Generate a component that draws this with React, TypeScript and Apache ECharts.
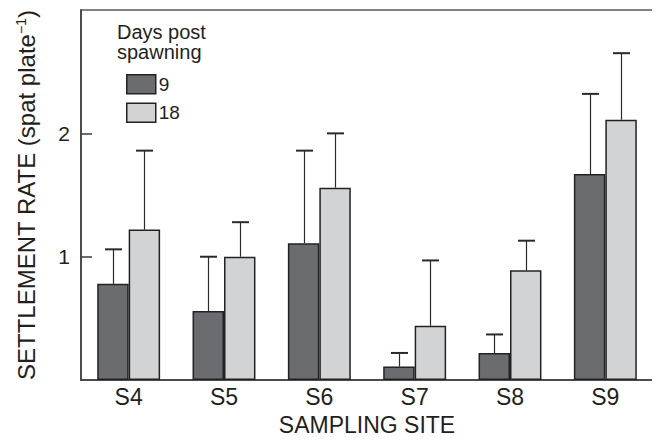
import React, { useEffect, useRef } from "react";
import * as echarts from "echarts";

const categories = ["S4", "S5", "S6", "S7", "S8", "S9"];
const day9 = [0.78, 0.56, 1.11, 0.11, 0.22, 1.67];
const day9Err = [0.28, 0.44, 0.75, 0.11, 0.15, 0.65];
const day18 = [1.22, 1.0, 1.56, 0.44, 0.89, 2.11];
const day18Err = [0.64, 0.28, 0.44, 0.53, 0.24, 0.54];
const yTicks = [0, 1, 2, 3];
const legendTitle = ["Days post", "spawning"];

const FONT = "'Liberation Sans', Arial, Helvetica, sans-serif";
const TEXT = "#231f20";
const DARK = "#6b6c70";
const LIGHT = "#d2d3d5";
const BAR_FRAC = 0.33;

function errSeries(values: number[], errs: number[], sign: number) {
  return {
    type: "custom",
    silent: true,
    z: 3,
    data: values.map((v, i) => [i, v, errs[i]]),
    renderItem: (params: any, api: any) => {
      const idx = api.value(0);
      const v = api.value(1);
      const e = api.value(2);
      const catW = api.size([1, 0])[0];
      const off = (catW * BAR_FRAC) / 2 * sign;
      const p0 = api.coord([idx, v]);
      const p1 = api.coord([idx, v + e]);
      const x = Math.round(p0[0] + off) + 0.5;
      return {
        type: "group",
        children: [
          {
            type: "line",
            shape: { x1: x, y1: p0[1], x2: x, y2: p1[1] },
            style: { stroke: "#2a2a2a", lineWidth: 1.2 },
          },
          {
            type: "line",
            shape: { x1: x - 8.5, y1: p1[1], x2: x + 8.5, y2: p1[1] },
            style: { stroke: "#2a2a2a", lineWidth: 2 },
          },
        ],
      };
    },
  };
}

export default function App() {
  const ref = useRef<HTMLDivElement>(null);
  useEffect(() => {
    if (!ref.current) return;
    const chart = echarts.init(ref.current, undefined, { renderer: "svg" });
    chart.setOption({
      animation: false,
      backgroundColor: "#ffffff",
      textStyle: { fontFamily: FONT, color: TEXT },
      grid: {
        left: 81,
        top: 10,
        right: 7,
        bottom: 53,
        show: true,
        borderColor: "#5a5a5a",
        borderWidth: 1.5,
        backgroundColor: "transparent",
      },
      legend: {
        data: ["9", "18"],
        orient: "vertical",
        left: 121,
        top: 69,
        itemWidth: 29,
        itemHeight: 19,
        itemGap: 8,
        icon: "rect",
        itemStyle: { borderColor: "#222", borderWidth: 1.5 },
        textStyle: { fontFamily: FONT, fontSize: 19, color: TEXT, padding: [0, 0, 0, -2] },
        selectedMode: false,
      },
      graphic: legendTitle.map((t, i) => ({
        type: "text",
        left: 117,
        top: 22 + i * 20,
        style: {
          text: t,
          font: `20px ${FONT}`,
          fill: TEXT,
        },
      })),
      xAxis: {
        type: "category",
        data: categories,
        name: "SAMPLING SITE",
        nameLocation: "middle",
        nameGap: 29,
        nameTextStyle: { fontFamily: FONT, fontSize: 23, color: TEXT },
        axisLine: { lineStyle: { color: "#3a3a3a", width: 1.5 } },
        axisTick: { inside: true, length: 11, lineStyle: { color: "#3a3a3a", width: 1.5 } },
        axisLabel: { fontFamily: FONT, fontSize: 23, color: TEXT, margin: 5 },
      },
      yAxis: {
        type: "value",
        min: yTicks[0],
        max: yTicks[yTicks.length - 1],
        interval: 1,
        name: "SETTLEMENT RATE (spat plate{sup|−1})",
        nameLocation: "middle",
        nameRotate: 90,
        nameGap: 43,
        nameTextStyle: {
          fontFamily: FONT,
          fontSize: 24,
          color: TEXT,
          rich: {
            sup: { fontFamily: FONT, fontSize: 14, color: TEXT, verticalAlign: "top", padding: [0, 0, 10, 0] },
          },
        },
        splitLine: { show: false },
        axisLine: { show: true, lineStyle: { color: "#3a3a3a", width: 1.5 } },
        axisTick: { show: true, inside: true, length: 11, lineStyle: { color: "#3a3a3a", width: 1.5 } },
        axisLabel: {
          fontFamily: FONT,
          fontSize: 21,
          color: TEXT,
          margin: 11,
          showMinLabel: false,
          showMaxLabel: false,
        },
      },
      series: [
        {
          name: "9",
          type: "bar",
          data: day9,
          barGap: "0%",
          barCategoryGap: "34%",
          itemStyle: { color: DARK, borderColor: "#222", borderWidth: 1.5 },
          z: 2,
        },
        {
          name: "18",
          type: "bar",
          data: day18,
          barGap: "0%",
          barCategoryGap: "34%",
          itemStyle: { color: LIGHT, borderColor: "#222", borderWidth: 1.5 },
          z: 2,
        },
        errSeries(day9, day9Err, -1),
        errSeries(day18, day18Err, 1),
      ],
    });
    return () => chart.dispose();
  }, []);
  return <div ref={ref} style={{ width: 660, height: 441, margin: -8 }} />;
}
